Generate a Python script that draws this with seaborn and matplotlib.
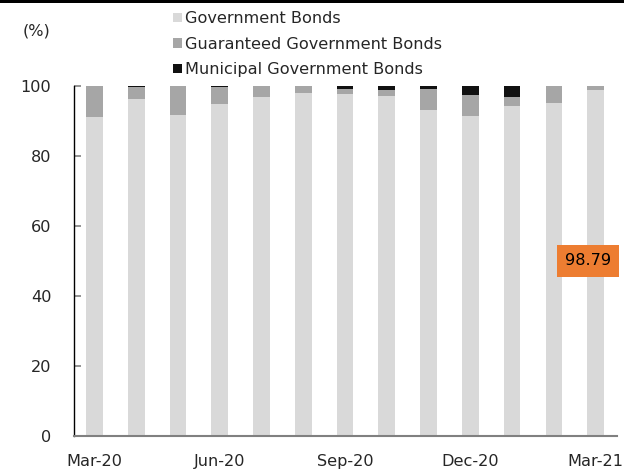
import matplotlib
matplotlib.use("Agg")
import matplotlib.pyplot as plt
import seaborn as sns
import pandas as pd
from matplotlib.patches import Patch, Rectangle

months = ["Mar-20", "Apr-20", "May-20", "Jun-20", "Jul-20", "Aug-20", "Sep-20",
          "Oct-20", "Nov-20", "Dec-20", "Jan-21", "Feb-21", "Mar-21"]
government = [91.2, 96.4, 91.6, 94.8, 96.8, 97.9, 97.6, 97.1, 93.1, 91.5, 94.3, 95.1, 98.79]
guaranteed = [8.8, 3.2, 8.4, 4.9, 3.2, 2.1, 1.46, 1.8, 6.0, 5.9, 2.6, 4.9, 1.21]
municipal = [0.0, 0.4, 0.0, 0.3, 0.0, 0.0, 0.94, 1.1, 0.9, 2.6, 3.1, 0.0, 0.0]
shown_ticks = ["Mar-20", "Jun-20", "Sep-20", "Dec-20", "Mar-21"]
series_names = ["Government Bonds", "Guaranteed Government Bonds", "Municipal Government Bonds"]
label_value = 98.79

colors = ["#D9D9D9", "#A6A6A6", "#111111"]

sns.set_style("white")
plt.rcParams["font.family"] = ["DejaVu Sans"]
FS = 11.6

df = pd.DataFrame({"month": months, "gov": government, "guar": guaranteed, "muni": municipal})
df["c1"] = df["gov"]
df["c2"] = df["gov"] + df["guar"]
df["c3"] = df["c2"] + df["muni"]

fig = plt.figure(figsize=(6.24, 4.72), dpi=100)
ax = fig.add_axes([0.118, 0.0763, 0.870, 0.7415])

for col, c in zip(["c3", "c2", "c1"], colors[::-1]):
    sns.barplot(data=df, x="month", y=col, order=months, color=c, width=0.4,
                saturation=1, ax=ax, linewidth=0)

ax.set_xlim(-0.5, 12.5)
ax.set_ylim(0, 100)
ax.set_yticks([0, 20, 40, 60, 80, 100])
ax.set_xticks([months.index(m) for m in shown_ticks])
ax.set_xticklabels(shown_ticks)
ax.set_xlabel("")
ax.set_ylabel("")
ax.tick_params(axis="y", direction="in", length=4.8, width=1.2, color="#808080",
               pad=16, labelsize=FS, left=True)
ax.tick_params(axis="x", length=0, pad=13, labelsize=FS)
for s in ["top", "right"]:
    ax.spines[s].set_visible(False)
ax.spines["left"].set_color("black")
ax.spines["left"].set_linewidth(1.0)
ax.spines["bottom"].set_color("#808080")
ax.spines["bottom"].set_linewidth(1.5)

ax.text(len(months) - 1 - 0.19, 50.0, f"{label_value:.2f}", ha="center", va="center",
        fontsize=FS, color="black", clip_on=False,
        bbox=dict(boxstyle="square,pad=0.5", fc="#ED7D31", ec="none"))

fig.text(0.036, 0.935, "(%)", fontsize=FS, ha="left", va="center")

handles = [Patch(facecolor=c, edgecolor="none") for c in colors]
fig.legend(handles, series_names, loc="upper left", bbox_to_anchor=(0.278, 0.976),
           frameon=False, fontsize=FS, handlelength=0.52, handleheight=0.52,
           handletextpad=0.2, labelspacing=0.64, borderaxespad=0, borderpad=0)

fig.add_artist(Rectangle((0, 1 - 3 / 472), 1, 3 / 472, transform=fig.transFigure,
                         facecolor="black", edgecolor="none"))

fig.savefig("out.png", dpi=100)
